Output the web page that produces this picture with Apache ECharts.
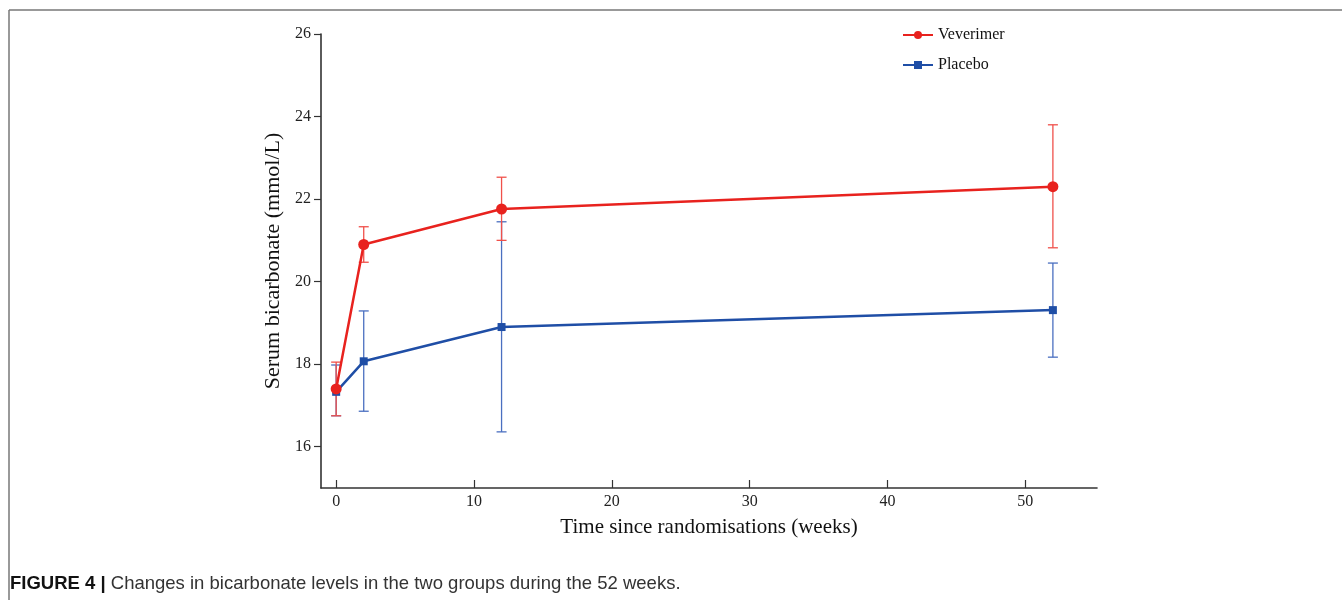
<!DOCTYPE html>
<html>
<head>
<meta charset="utf-8">
<script src="https://cdn.jsdelivr.net/npm/echarts@6/dist/echarts.min.js"></script>
<style>
  html, body { margin: 0; padding: 0; background: #fff; }
  #chart { width: 1342px; height: 600px; }
</style>
</head>
<body>
<div id="chart"></div>
<script>
// weeks since randomisation
let weeks = [0, 2, 12, 52];
// Veverimer: mean, lower, upper
let vevMean = [17.4, 20.9, 21.76, 22.3];
let vevLow = [16.75, 20.47, 21.0, 20.82];
let vevHigh = [18.05, 21.33, 22.53, 23.8];
// Placebo: mean, lower, upper
let plaMean = [17.33, 18.07, 18.9, 19.31];
let plaLow = [16.75, 16.86, 16.36, 18.17];
let plaHigh = [17.98, 19.29, 21.45, 20.45];
// tick labels
let xTicks = [0, 10, 20, 30, 40, 50];
let yTicks = [16, 18, 20, 22, 24, 26];

const RED = '#e8221e';
const BLUE = '#1f4ea6';
const SERIF = '"Liberation Serif", "DejaVu Serif", serif';
const SANS = '"Liberation Sans", Arial, sans-serif';

function zip(a, b) {
    let out = [];
    for (let i = 0; i < a.length; i++) out.push([a[i], b[i]]);
    return out;
}
function errData(lo, hi) {
    let out = [];
    for (let i = 0; i < weeks.length; i++) out.push([weeks[i], lo[i], hi[i]]);
    return out;
}
// vertical error bar with caps
function errRender(color) {
    return function (params, api) {
        let top = api.coord([api.value(0), api.value(2)]);
        let bot = api.coord([api.value(0), api.value(1)]);
        let w = 5;
        let style = { stroke: color, lineWidth: 1.3 };
        return {
            type: 'group',
            children: [
                { type: 'line', shape: { x1: top[0], y1: top[1], x2: bot[0], y2: bot[1] }, style: style },
                { type: 'line', shape: { x1: top[0] - w, y1: top[1], x2: top[0] + w, y2: top[1] }, style: style },
                { type: 'line', shape: { x1: bot[0] - w, y1: bot[1], x2: bot[0] + w, y2: bot[1] }, style: style }
            ]
        };
    };
}

let option = {
    animation: false,
    backgroundColor: '#fff',
    grid: { left: 321, top: 34, right: 245, bottom: 112 },
    legend: {
        data: ['Veverimer', 'Placebo'],
        orient: 'vertical',
        left: 897,
        top: 22,
        itemWidth: 30,
        itemHeight: 10,
        itemGap: 14,
        textStyle: { fontFamily: SERIF, fontSize: 16, color: '#111' }
    },
    graphic: [
        { type: 'line', shape: { x1: 9, y1: 10, x2: 1342, y2: 10 }, style: { stroke: '#777', lineWidth: 1.5 } },
        { type: 'line', shape: { x1: 9, y1: 10, x2: 9, y2: 600 }, style: { stroke: '#777', lineWidth: 1.5 } },
        {
            type: 'text', left: 10, top: 574,
            style: {
                text: '{b|FIGURE 4 |} Changes in bicarbonate levels in the two groups during the 52 weeks.',
                font: '18.5px ' + SANS,
                fill: '#333',
                rich: { b: { fontWeight: 'bold', fontSize: 18.5, fontFamily: SANS, fill: '#111' } }
            }
        }
    ],
    xAxis: {
        type: 'value',
        min: -1.1,
        max: 55.2,
        name: 'Time since randomisations (weeks)',
        nameLocation: 'middle',
        nameGap: 29,
        nameTextStyle: { fontFamily: SERIF, fontSize: 21, color: '#111' },
        axisLine: { onZero: false, lineStyle: { color: '#333', width: 1.6 } },
        axisTick: { show: true, inside: true, length: 8, customValues: xTicks, lineStyle: { color: '#333', width: 1.2 } },
        axisLabel: { customValues: xTicks, fontFamily: SERIF, fontSize: 16, color: '#222', margin: 6 },
        splitLine: { show: false }
    },
    yAxis: {
        type: 'value',
        min: 15,
        max: 26,
        name: 'Serum bicarbonate (mmol/L)',
        nameLocation: 'middle',
        nameGap: 34,
        nameTextStyle: { fontFamily: SERIF, fontSize: 22, color: '#111' },
        axisLine: { show: true, onZero: false, lineStyle: { color: '#333', width: 1.6 } },
        axisTick: { show: true, length: 7, customValues: yTicks, lineStyle: { color: '#333', width: 1.2 } },
        axisLabel: { customValues: yTicks, fontFamily: SERIF, fontSize: 16, color: '#222', margin: 10 },
        splitLine: { show: false }
    },
    series: [
        {
            name: 'Placebo-err',
            type: 'custom',
            renderItem: errRender('#4a6fc0'),
            data: errData(plaLow, plaHigh),
            z: 2
        },
        {
            name: 'Veverimer-err',
            type: 'custom',
            renderItem: errRender('#f0504a'),
            data: errData(vevLow, vevHigh),
            z: 2
        },
        {
            name: 'Placebo',
            type: 'line',
            data: zip(weeks, plaMean),
            symbol: 'rect',
            symbolSize: 8,
            color: BLUE,
            lineStyle: { color: BLUE, width: 2.5 },
            itemStyle: { color: BLUE },
            z: 3
        },
        {
            name: 'Veverimer',
            type: 'line',
            data: zip(weeks, vevMean),
            symbol: 'circle',
            symbolSize: 11,
            color: RED,
            lineStyle: { color: RED, width: 2.5 },
            itemStyle: { color: RED },
            z: 4
        }
    ]
};

let myChart = echarts.init(document.getElementById('chart'));
myChart.setOption(option);
</script>
</body>
</html>
